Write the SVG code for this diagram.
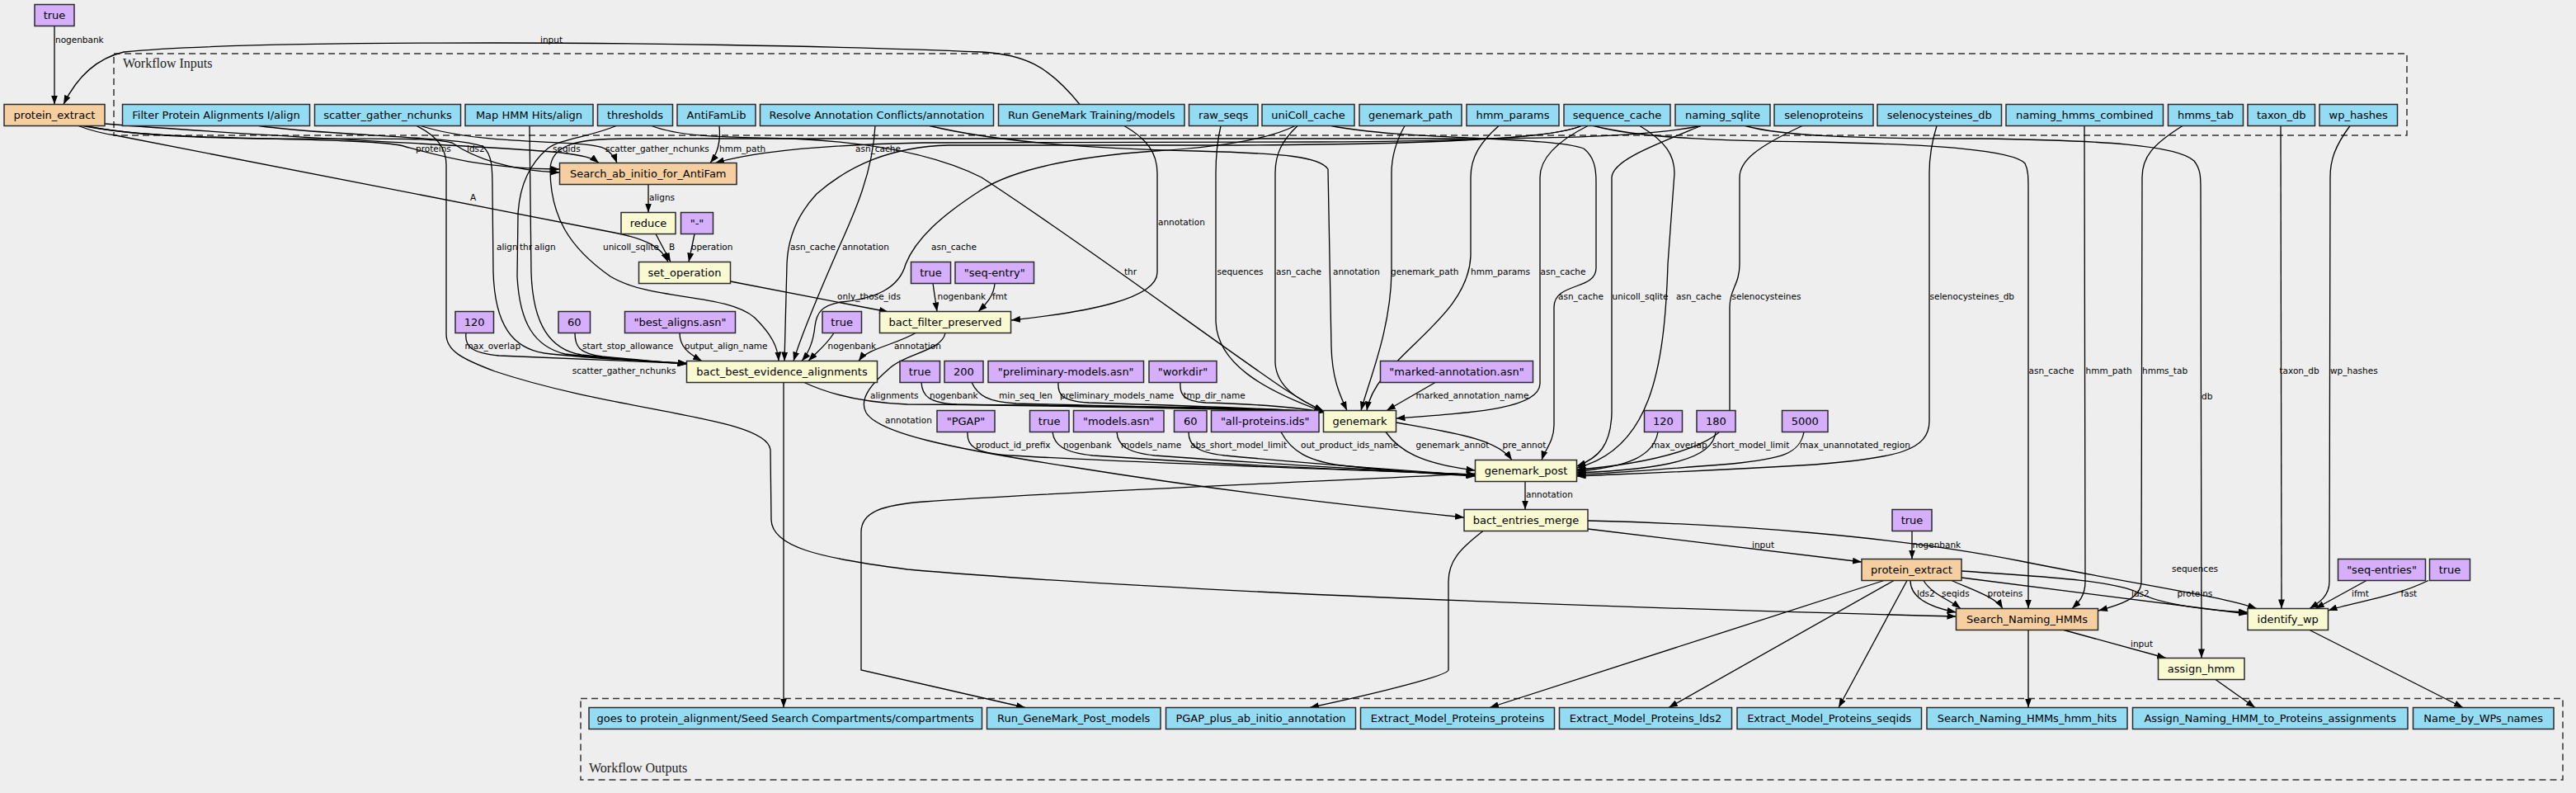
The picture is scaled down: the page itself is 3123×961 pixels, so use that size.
<svg xmlns="http://www.w3.org/2000/svg" width="3123" height="961" viewBox="0 0 3123 961">
<defs>
<style>
.n rect{stroke:#2a2a2a;stroke-width:1.5}
.b rect{fill:#94dcf4}.p rect{fill:#d5aefc}.o rect{fill:#f5cfa0}.y rect{fill:#fafad2}
.n text{font-family:"DejaVu Sans",sans-serif;font-size:13px;text-anchor:middle;fill:#000}
.c{fill:none;stroke:#333;stroke-width:1.5;stroke-dasharray:8,5}
.ct{font-family:"Liberation Serif",serif;font-size:16px;fill:#222}
#edges path{fill:none;stroke:#000;stroke-width:1.3;marker-end:url(#a)}
#labels text{font-family:"DejaVu Sans",sans-serif;font-size:10.5px;fill:#000}
</style>
<marker id="a" viewBox="0 0 11 8" refX="11" refY="4" markerWidth="11" markerHeight="8" markerUnits="userSpaceOnUse" orient="auto"><path d="M0,0 L11,4 L0,8 z" fill="#000"/></marker>
</defs>
<rect width="3123" height="961" fill="#eeeeee"/>
<g id="clusters">
<rect class="c" x="138" y="65" width="2780" height="99"/>
<text class="ct" x="149" y="82">Workflow Inputs</text>
<rect class="c" x="704" y="846.5" width="2403" height="98.5"/>
<text class="ct" x="714" y="936">Workflow Outputs</text>
</g>
<g id="edges">
<path d="M66,31.5 L66,126.5"/>
<path d="M1309,126.5 C1270,78 1240,66 1190,63 C1000,55 750,52 600,52 C400,52 230,55 150,63 C112,72 90,100 77,126.5"/>
<path d="M105,152.5 C180,172 420,165 485,176 C530,188 580,204 678.5,205"/>
<path d="M100,152.5 C250,180 500,160 548,173 C575,192 620,207 678.5,209"/>
<path d="M127,150 C350,168 620,178 680,185 C705,188 718,191 726,197.5"/>
<path d="M95,152.5 C115,160 125,162 140,164 L745,282 C785,290 802,300 810,317.5"/>
<path d="M510,152.5 C590,178 710,168 733,180 C742,186 746,192 748,197.5"/>
<path d="M872,152.5 C874,172 870,186 861,197.5"/>
<path d="M1917,152.5 C1880,168 1780,171 1600,172 L1120,173 C1020,175 920,182 867,197.5"/>
<path d="M786,223.5 L786,257.5"/>
<path d="M795,283.5 L813,317.5"/>
<path d="M842,283.5 L835,317.5"/>
<path d="M885.5,341 L1077,378"/>
<path d="M1131,343.5 L1136,377.5"/>
<path d="M1206,343.5 C1205,358 1196,368 1186,377.5"/>
<path d="M1363,152.5 C1390,168 1403,185 1403,210 L1403,330 C1403,362 1320,378 1226,388"/>
<path d="M790,152.5 C830,168 900,166 960,168 C1050,172 1130,185 1190,215 C1320,300 1460,405 1555,470 C1575,483 1590,492 1604.5,498"/>
<path d="M1480,152.5 C1476,170 1474,185 1474,210 L1474,390 C1476,440 1530,472 1604.5,499"/>
<path d="M1573,152.5 C1555,170 1546,185 1546,210 L1546,440 C1548,470 1575,485 1604.5,498"/>
<path d="M1127,152.5 C1200,170 1300,180 1450,183 C1560,186 1600,190 1610,205 L1614,420 C1615,460 1625,480 1633,497.5"/>
<path d="M1703,152.5 C1692,172 1687,190 1687,210 L1687,330 C1686,400 1660,460 1650,497.5"/>
<path d="M1817,152.5 C1795,172 1783,190 1783,215 L1783,310 C1780,390 1668,432 1657,497.5"/>
<path d="M1925,152.5 C1890,170 1867,190 1867,215 L1867,465 C1866,495 1790,500 1692.5,507"/>
<path d="M1740,463.5 L1681,497.5"/>
<path d="M975,463.5 C1010,480 1050,488 1100,490 C1300,491 1500,493 1604.5,499"/>
<path d="M1117,463.5 C1118,480 1126,488 1160,490 C1300,493 1500,495 1604.5,499.5"/>
<path d="M1178,463.5 C1186,480 1198,487 1232,489 C1350,492 1500,495 1604.5,499.5"/>
<path d="M1283,463.5 C1282,478 1287,486 1320,488 C1420,491 1520,494 1604.5,499.5"/>
<path d="M1431,463.5 C1430,478 1434,486 1462,488 C1530,490 1570,493 1604.5,499.5"/>
<path d="M1173,523.5 C1172,540 1180,549 1225,552 C1400,562 1650,570 1788.5,575"/>
<path d="M1276,523.5 C1278,540 1290,548 1325,552 C1450,561 1650,570 1788.5,575"/>
<path d="M1354,523.5 C1355,540 1366,548 1400,552 C1520,561 1680,570 1788.5,575.5"/>
<path d="M1441,523.5 C1441,540 1451,548 1485,552 C1580,561 1700,570 1788.5,576"/>
<path d="M1553,523.5 C1565,546 1585,560 1635,565 C1700,572 1750,575 1788.5,577"/>
<path d="M1680,523.5 C1696,546 1722,562 1788.5,570"/>
<path d="M1692.5,512 C1765,525 1815,532 1833,557.5"/>
<path d="M1614,152.5 C1700,170 1880,165 1920,180 C1933,190 1935,205 1935,220 L1935,325 C1935,352 1884,342 1884,372 L1884,515 C1884,535 1873,545 1869,557.5"/>
<path d="M2062,152.5 C2000,178 1955,195 1954,215 L1954,500 C1953,540 1938,555 1911.5,565"/>
<path d="M1988,152.5 C2020,172 2030,188 2030,210 L2022,320 C2018,450 2000,545 1911.5,567"/>
<path d="M2185,152.5 C2130,178 2109,195 2109,215 L2109,320 C2109,345 2097,350 2097,372 L2097,500 C2097,540 2000,562 1911.5,569"/>
<path d="M2010,523.5 C2005,552 1975,566 1911.5,571"/>
<path d="M2080,523.5 C2077,556 2020,569 1911.5,573"/>
<path d="M2187,523.5 C2182,550 2160,556 2100,562 C2000,570 1950,574 1911.5,575"/>
<path d="M2348,152.5 C2341,175 2339,190 2339,210 L2339,510 C2339,546 2300,555 2200,563 C2050,572 1950,575 1911.5,577"/>
<path d="M1849,583.5 L1849,617.5"/>
<path d="M1146,403.5 C1142,425 1100,428 1080,445 C1060,462 1040,482 1050,500 C1065,525 1150,543 1300,566 C1500,598 1650,614 1775,627"/>
<path d="M1110,403.5 C1085,418 1052,422 1041,437.5"/>
<path d="M1011,403.5 C1002,418 990,427 980,437.5"/>
<path d="M824,403.5 C824,420 834,428 851,437.5"/>
<path d="M697,403.5 C697,420 702,428 730,432 C770,436 800,438 832.5,441.5"/>
<path d="M565,403.5 C563,420 572,428 605,431 C700,435 780,438 832.5,440.5"/>
<path d="M314,152.5 C400,165 560,165 586,178 C597,188 597,205 597,230 L598,330 C600,395 622,422 660,428 C720,435 790,438 832.5,440"/>
<path d="M747,152.5 C715,166 680,168 664,180 C645,196 630,220 628,260 L627,335 C630,392 648,420 685,429 C745,436 800,438 832.5,440.5"/>
<path d="M642,152.5 L644,330 C646,395 668,424 705,430 C760,436 800,439 832.5,441"/>
<path d="M505,152.5 C530,165 541,180 541,200 L541,405 C541,425 560,435 600,450 C750,500 930,505 934,545 L935,630 C936,662 990,676 1100,690 C1400,716 1900,735 2371.5,747"/>
<path d="M2062,152.5 C2000,165 1900,167 1800,168 L760,168 C700,168 668,175 667,205 C667,262 690,300 740,335 C790,365 880,355 915,385 C935,405 943,420 944,437.5"/>
<path d="M1917,152.5 C1880,170 1700,175 1500,176 L1150,176 C1080,178 1030,200 990,235 C965,262 955,290 954,320 L951,437.5"/>
<path d="M1061,152.5 C1058,210 1035,260 1017,300 C1000,340 975,395 962,437.5"/>
<path d="M1570,152.5 C1540,168 1480,178 1400,183 C1300,190 1230,205 1190,230 C1140,262 1110,290 1098,320 C1090,350 1060,362 1020,366 C995,370 990,380 988,395 C986,415 980,428 972,437.5"/>
<path d="M1932,152.5 C1990,168 2100,171 2200,172 C2350,175 2440,182 2455,198 C2459,206 2459,215 2459,230 L2459,737.5"/>
<path d="M2527,152.5 L2528,705 C2528,722 2520,730 2512,737.5"/>
<path d="M2646,152.5 C2610,175 2597,190 2597,215 L2596,705 C2596,725 2570,733 2544,740"/>
<path d="M2116,152.5 C2160,165 2250,168 2400,168 C2550,170 2640,176 2660,195 C2668,205 2668,215 2668,230 L2669,797.5"/>
<path d="M2765,152.5 L2766,737.5"/>
<path d="M2849,152.5 C2830,178 2825,195 2825,215 L2824,705 C2824,722 2812,730 2800,737.5"/>
<path d="M1925,631 C2100,635 2300,650 2450,680 C2600,710 2690,722 2736,737.5"/>
<path d="M1925,641 L2257,681"/>
<path d="M1798,643.5 C1770,665 1756,680 1756,705 L1756,812 C1756,818 1680,838 1588,857.5"/>
<path d="M2318,643.5 L2318,677.5"/>
<path d="M2316,703.5 C2316,722 2335,735 2371.5,742"/>
<path d="M2332,703.5 C2342,720 2362,726 2377,737.5"/>
<path d="M2366,703.5 C2392,715 2420,724 2428,737.5"/>
<path d="M2378,692 C2500,700 2565,705 2592,718 C2620,733 2680,740 2725,742"/>
<path d="M2378,700 L2725,744"/>
<path d="M2284,703.5 L1806,857.5"/>
<path d="M2296,703.5 L2023,857.5"/>
<path d="M2312,703.5 L2229,857.5"/>
<path d="M2459,763.5 L2459,857.5"/>
<path d="M2502,763.5 L2626,797.5"/>
<path d="M2686,823.5 L2734,857.5"/>
<path d="M2800,763.5 L2986,857.5"/>
<path d="M2869,703.5 L2807,737.5"/>
<path d="M2944,703.5 C2900,725 2850,730 2822.5,740"/>
<path d="M950,463.5 L950,857.5"/>
<path d="M1788.5,574 C1500,588 1250,598 1120,608 C1070,612 1044,620 1044,645 L1044,812 L1243,857.5"/>
</g>
<g id="labels">
<text x="67" y="52">nogenbank</text>
<text x="655" y="51.5">input</text>
<text x="504" y="184">proteins</text>
<text x="566" y="184">lds2</text>
<text x="670" y="184">seqids</text>
<text x="734" y="184">scatter_gather_nchunks</text>
<text x="872" y="184">hmm_path</text>
<text x="1037" y="184">asn_cache</text>
<text x="570" y="243">A</text>
<text x="787" y="243">aligns</text>
<text x="602" y="303">align</text>
<text x="630" y="303">thr</text>
<text x="648" y="303">align</text>
<text x="731" y="303">unicoll_sqlite</text>
<text x="811" y="303">B</text>
<text x="838" y="303">operation</text>
<text x="958" y="303">asn_cache</text>
<text x="1021" y="303">annotation</text>
<text x="1129" y="303">asn_cache</text>
<text x="1404" y="273">annotation</text>
<text x="1015" y="363">only_those_ids</text>
<text x="1136.5" y="363">nogenbank</text>
<text x="1203" y="363">fmt</text>
<text x="1363" y="333">thr</text>
<text x="1475.5" y="333">sequences</text>
<text x="1547" y="333">asn_cache</text>
<text x="1616" y="333">annotation</text>
<text x="1686" y="333">genemark_path</text>
<text x="1783" y="333">hmm_params</text>
<text x="1867.5" y="333">asn_cache</text>
<text x="1889" y="363">asn_cache</text>
<text x="1954.5" y="363">unicoll_sqlite</text>
<text x="2032" y="363">asn_cache</text>
<text x="2099.5" y="363">selenocysteines</text>
<text x="2339.5" y="363">selenocysteines_db</text>
<text x="563.5" y="423">max_overlap</text>
<text x="706" y="423">start_stop_allowance</text>
<text x="830" y="423">output_align_name</text>
<text x="1003.5" y="423">nogenbank</text>
<text x="1084" y="423">annotation</text>
<text x="819.5" y="453" text-anchor="end">scatter_gather_nchunks</text>
<text x="2459.5" y="453">asn_cache</text>
<text x="2528.5" y="453">hmm_path</text>
<text x="2597" y="453">hmms_tab</text>
<text x="2763.5" y="453">taxon_db</text>
<text x="2825" y="453">wp_hashes</text>
<text x="2669" y="484">db</text>
<text x="1055" y="483">alignments</text>
<text x="1127" y="483">nogenbank</text>
<text x="1211" y="483">min_seq_len</text>
<text x="1285" y="483">preliminary_models_name</text>
<text x="1434.5" y="483">tmp_dir_name</text>
<text x="1716.5" y="483">marked_annotation_name</text>
<text x="1073" y="513">annotation</text>
<text x="1183" y="543">product_id_prefix</text>
<text x="1289" y="543">nogenbank</text>
<text x="1359" y="543">models_name</text>
<text x="1443" y="543">abs_short_model_limit</text>
<text x="1577" y="543">out_product_ids_name</text>
<text x="1716.5" y="543">genemark_annot</text>
<text x="1821.5" y="543">pre_annot</text>
<text x="2002" y="543">max_overlap</text>
<text x="2076" y="543">short_model_limit</text>
<text x="2182" y="543">max_unannotated_region</text>
<text x="1850" y="603">annotation</text>
<text x="2124" y="664">input</text>
<text x="2318.5" y="664">nogenbank</text>
<text x="2633" y="693">sequences</text>
<text x="2324" y="723">lds2</text>
<text x="2354" y="723">seqids</text>
<text x="2409.5" y="723">proteins</text>
<text x="2584" y="723">lds2</text>
<text x="2639.5" y="723">proteins</text>
<text x="2851" y="723">ifmt</text>
<text x="2910.5" y="723">fast</text>
<text x="2583" y="784">input</text>
</g>
<g id="n_true0" class="n p"><rect x="42" y="5.5" width="48" height="26"/><text x="66" y="23">true</text></g>
<g id="n_pe1" class="n o"><rect x="5" y="126.5" width="122" height="26"/><text x="66" y="144">protein_extract</text></g>
<g id="n_fpa" class="n b"><rect x="148.5" y="126.5" width="227" height="26"/><text x="262" y="144">Filter Protein Alignments I/align</text></g>
<g id="n_sgn" class="n b"><rect x="381.5" y="126.5" width="177" height="26"/><text x="470" y="144">scatter_gather_nchunks</text></g>
<g id="n_mhh" class="n b"><rect x="564" y="126.5" width="155" height="26"/><text x="641.5" y="144">Map HMM Hits/align</text></g>
<g id="n_thr" class="n b"><rect x="724.5" y="126.5" width="91" height="26"/><text x="770" y="144">thresholds</text></g>
<g id="n_afl" class="n b"><rect x="821" y="126.5" width="95" height="26"/><text x="868.5" y="144">AntiFamLib</text></g>
<g id="n_rac" class="n b"><rect x="921.5" y="126.5" width="283" height="26"/><text x="1063" y="144">Resolve Annotation Conflicts/annotation</text></g>
<g id="n_rgt" class="n b"><rect x="1210.5" y="126.5" width="225.5" height="26"/><text x="1323.2" y="144">Run GeneMark Training/models</text></g>
<g id="n_raw" class="n b"><rect x="1441.5" y="126.5" width="83.5" height="26"/><text x="1483.2" y="144">raw_seqs</text></g>
<g id="n_ucc" class="n b"><rect x="1530" y="126.5" width="112" height="26"/><text x="1586" y="144">uniColl_cache</text></g>
<g id="n_gmp" class="n b"><rect x="1648" y="126.5" width="124" height="26"/><text x="1710" y="144">genemark_path</text></g>
<g id="n_hmp" class="n b"><rect x="1778" y="126.5" width="112" height="26"/><text x="1834" y="144">hmm_params</text></g>
<g id="n_seq" class="n b"><rect x="1896" y="126.5" width="129" height="26"/><text x="1960.5" y="144">sequence_cache</text></g>
<g id="n_nsq" class="n b"><rect x="2031" y="126.5" width="115" height="26"/><text x="2088.5" y="144">naming_sqlite</text></g>
<g id="n_sel" class="n b"><rect x="2151" y="126.5" width="120" height="26"/><text x="2211" y="144">selenoproteins</text></g>
<g id="n_sdb" class="n b"><rect x="2276" y="126.5" width="150.5" height="26"/><text x="2351.2" y="144">selenocysteines_db</text></g>
<g id="n_nhc" class="n b"><rect x="2432" y="126.5" width="190.5" height="26"/><text x="2527.2" y="144">naming_hmms_combined</text></g>
<g id="n_htb" class="n b"><rect x="2628.5" y="126.5" width="91" height="26"/><text x="2674" y="144">hmms_tab</text></g>
<g id="n_tdb" class="n b"><rect x="2725" y="126.5" width="81.5" height="26"/><text x="2765.7" y="144">taxon_db</text></g>
<g id="n_wph" class="n b"><rect x="2812" y="126.5" width="94.5" height="26"/><text x="2859.2" y="144">wp_hashes</text></g>
<g id="n_sab" class="n o"><rect x="678.5" y="197.5" width="214.5" height="26"/><text x="785.7" y="215">Search_ab_initio_for_AntiFam</text></g>
<g id="n_reduce" class="n y"><rect x="753" y="257.5" width="66" height="26"/><text x="786" y="275">reduce</text></g>
<g id="n_dash" class="n p"><rect x="825.5" y="257.5" width="39" height="26"/><text x="845" y="275">"-"</text></g>
<g id="n_setop" class="n y"><rect x="774.5" y="317.5" width="111" height="26"/><text x="830" y="335">set_operation</text></g>
<g id="n_true1" class="n p"><rect x="1104.5" y="317.5" width="48" height="26"/><text x="1128.5" y="335">true</text></g>
<g id="n_seqentry" class="n p"><rect x="1158" y="317.5" width="95.5" height="26"/><text x="1205.7" y="335">"seq-entry"</text></g>
<g id="n_bfp" class="n y"><rect x="1066.5" y="377.5" width="159" height="26"/><text x="1146" y="395">bact_filter_preserved</text></g>
<g id="n_120a" class="n p"><rect x="552" y="377.5" width="46.5" height="26"/><text x="575.2" y="395">120</text></g>
<g id="n_60a" class="n p"><rect x="677" y="377.5" width="38.5" height="26"/><text x="696.2" y="395">60</text></g>
<g id="n_bestaligns" class="n p"><rect x="757.5" y="377.5" width="134" height="26"/><text x="824.5" y="395">"best_aligns.asn"</text></g>
<g id="n_true2" class="n p"><rect x="997" y="377.5" width="47.5" height="26"/><text x="1020.7" y="395">true</text></g>
<g id="n_bbea" class="n y"><rect x="832.5" y="437.5" width="231" height="26"/><text x="948" y="455">bact_best_evidence_alignments</text></g>
<g id="n_true3" class="n p"><rect x="1091" y="437.5" width="48.5" height="26"/><text x="1115.2" y="455">true</text></g>
<g id="n_200" class="n p"><rect x="1145" y="437.5" width="47" height="26"/><text x="1168.5" y="455">200</text></g>
<g id="n_prelim" class="n p"><rect x="1198" y="437.5" width="188.5" height="26"/><text x="1292.2" y="455">"preliminary-models.asn"</text></g>
<g id="n_workdir" class="n p"><rect x="1393" y="437.5" width="82" height="26"/><text x="1434" y="455">"workdir"</text></g>
<g id="n_marked" class="n p"><rect x="1673.5" y="437.5" width="185" height="26"/><text x="1766" y="455">"marked-annotation.asn"</text></g>
<g id="n_pgap" class="n p"><rect x="1136" y="497.5" width="70" height="26"/><text x="1171" y="515">"PGAP"</text></g>
<g id="n_true4" class="n p"><rect x="1248.5" y="497.5" width="47.5" height="26"/><text x="1272.2" y="515">true</text></g>
<g id="n_models" class="n p"><rect x="1301.5" y="497.5" width="109.5" height="26"/><text x="1356.2" y="515">"models.asn"</text></g>
<g id="n_60b" class="n p"><rect x="1423.5" y="497.5" width="39.5" height="26"/><text x="1443.2" y="515">60</text></g>
<g id="n_allprot" class="n p"><rect x="1468.5" y="497.5" width="130.5" height="26"/><text x="1533.7" y="515">"all-proteins.ids"</text></g>
<g id="n_genemark" class="n y"><rect x="1604.5" y="497.5" width="88" height="26"/><text x="1648.5" y="515">genemark</text></g>
<g id="n_120b" class="n p"><rect x="1993.5" y="497.5" width="46" height="26"/><text x="2016.5" y="515">120</text></g>
<g id="n_180" class="n p"><rect x="2057" y="497.5" width="47" height="26"/><text x="2080.5" y="515">180</text></g>
<g id="n_5000" class="n p"><rect x="2160.5" y="497.5" width="55.5" height="26"/><text x="2188.2" y="515">5000</text></g>
<g id="n_gmpost" class="n y"><rect x="1788.5" y="557.5" width="123" height="26"/><text x="1850" y="575">genemark_post</text></g>
<g id="n_bem" class="n y"><rect x="1775" y="617.5" width="150" height="26"/><text x="1850" y="635">bact_entries_merge</text></g>
<g id="n_true5" class="n p"><rect x="2294" y="617.5" width="48" height="26"/><text x="2318" y="635">true</text></g>
<g id="n_pe2" class="n o"><rect x="2257" y="677.5" width="121" height="26"/><text x="2317.5" y="695">protein_extract</text></g>
<g id="n_seqentries" class="n p"><rect x="2834.5" y="677.5" width="106" height="26"/><text x="2887.5" y="695">"seq-entries"</text></g>
<g id="n_true6" class="n p"><rect x="2945.5" y="677.5" width="49" height="26"/><text x="2970" y="695">true</text></g>
<g id="n_snh" class="n o"><rect x="2371.5" y="737.5" width="172" height="26"/><text x="2457.5" y="755">Search_Naming_HMMs</text></g>
<g id="n_idwp" class="n y"><rect x="2725" y="737.5" width="97.5" height="26"/><text x="2773.7" y="755">identify_wp</text></g>
<g id="n_assign" class="n y"><rect x="2616.5" y="797.5" width="104.5" height="26"/><text x="2668.7" y="815">assign_hmm</text></g>
<g id="n_o1" class="n b"><rect x="714" y="857.5" width="476.5" height="26"/><text x="952.2" y="875">goes to protein_alignment/Seed Search Compartments/compartments</text></g>
<g id="n_o2" class="n b"><rect x="1196.5" y="857.5" width="210.5" height="26"/><text x="1301.7" y="875">Run_GeneMark_Post_models</text></g>
<g id="n_o3" class="n b"><rect x="1413.5" y="857.5" width="230" height="26"/><text x="1528.5" y="875">PGAP_plus_ab_initio_annotation</text></g>
<g id="n_o4" class="n b"><rect x="1649.5" y="857.5" width="235" height="26"/><text x="1767" y="875">Extract_Model_Proteins_proteins</text></g>
<g id="n_o5" class="n b"><rect x="1890.5" y="857.5" width="209" height="26"/><text x="1995" y="875">Extract_Model_Proteins_lds2</text></g>
<g id="n_o6" class="n b"><rect x="2106" y="857.5" width="223.5" height="26"/><text x="2217.7" y="875">Extract_Model_Proteins_seqids</text></g>
<g id="n_o7" class="n b"><rect x="2336" y="857.5" width="243" height="26"/><text x="2457.5" y="875">Search_Naming_HMMs_hmm_hits</text></g>
<g id="n_o8" class="n b"><rect x="2585.5" y="857.5" width="333.5" height="26"/><text x="2752.2" y="875">Assign_Naming_HMM_to_Proteins_assignments</text></g>
<g id="n_o9" class="n b"><rect x="2925.5" y="857.5" width="170.5" height="26"/><text x="3010.7" y="875">Name_by_WPs_names</text></g>
</svg>
